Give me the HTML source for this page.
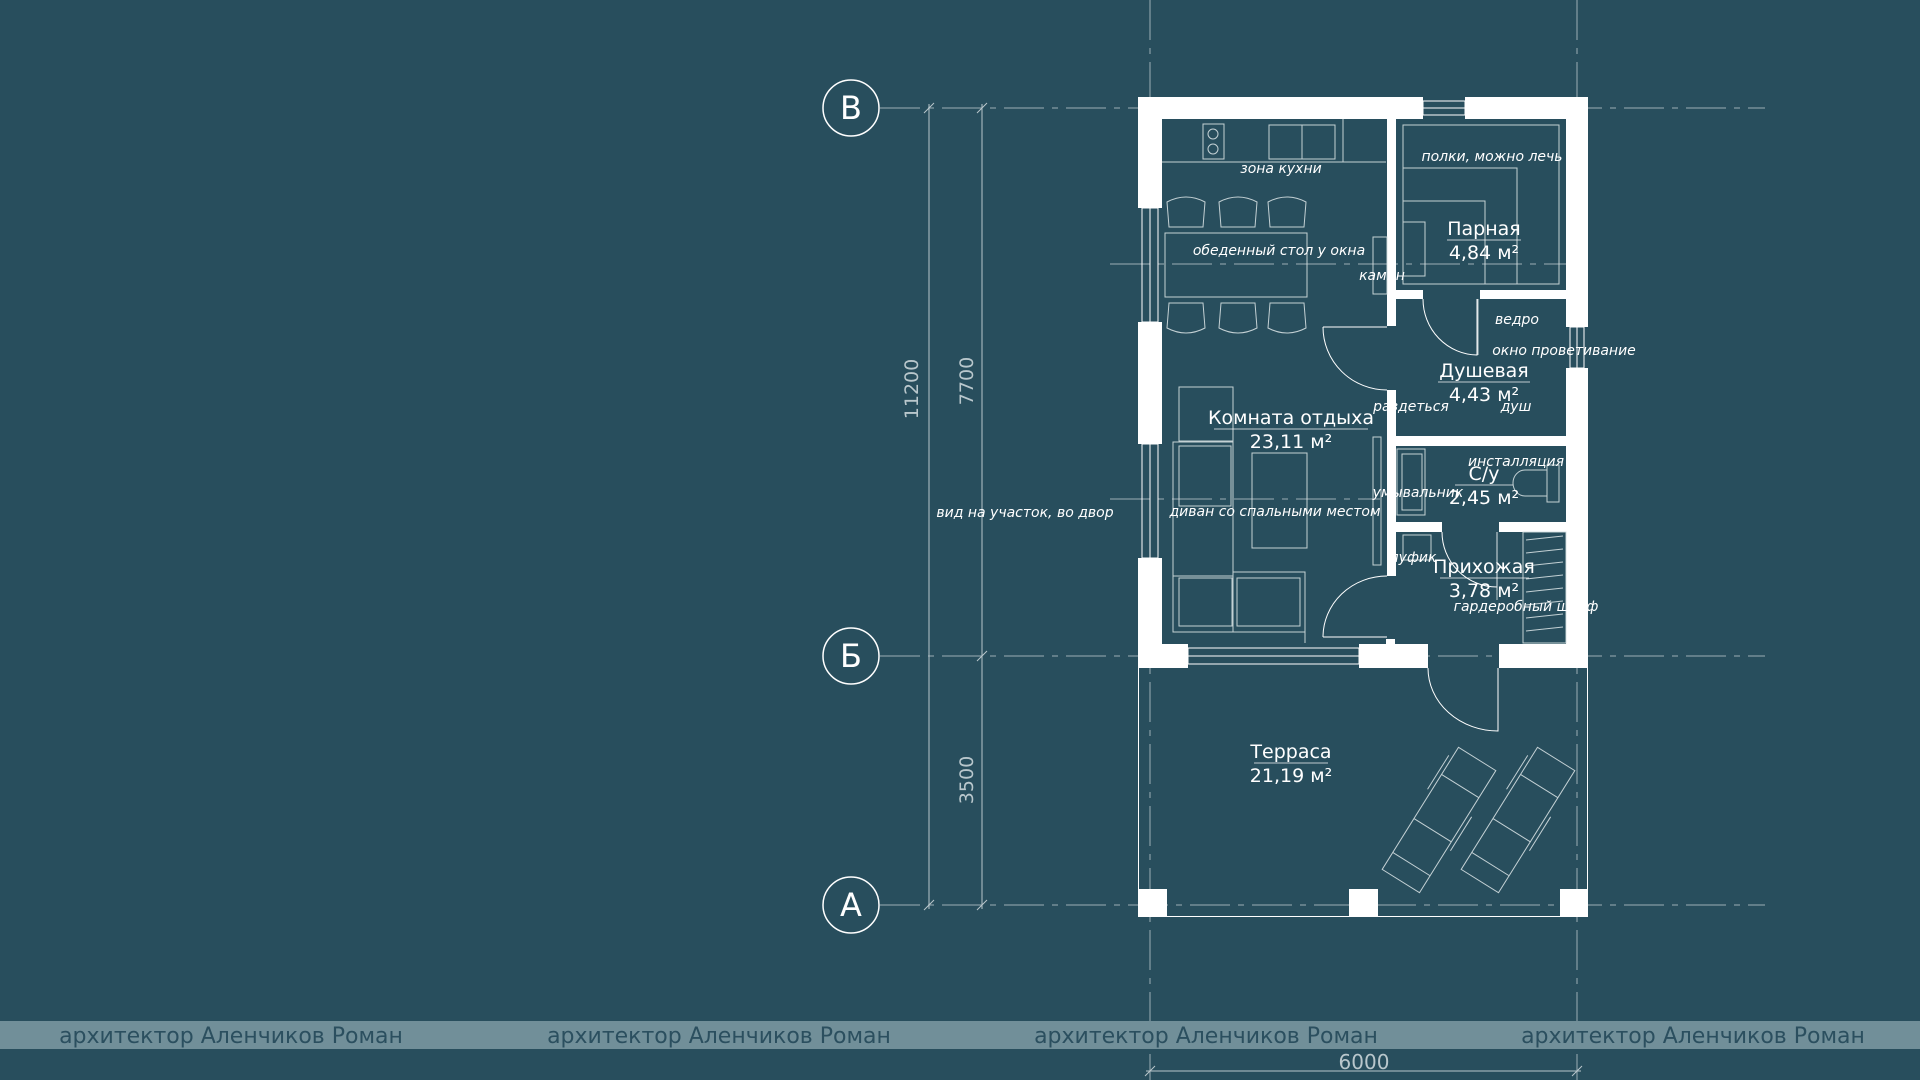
<!DOCTYPE html>
<html><head><meta charset="utf-8"><style>
html,body{margin:0;padding:0;background:#284e5d;}
svg{display:block}
text{font-family:"DejaVu Sans","Liberation Sans",sans-serif;fill:#fff}
.i{font-style:italic;font-size:14px}
.r{font-size:19px}
</style></head><body>
<svg width="1920" height="1080" viewBox="0 0 1920 1080" xmlns="http://www.w3.org/2000/svg">
<rect width="1920" height="1080" fill="#284e5d"/>
<g stroke="#b9c7cc" stroke-width="1" stroke-dasharray="40 8 6 8" fill="none" opacity="0.8">
<line x1="1150" y1="0" x2="1150" y2="1080"/>
<line x1="1577" y1="0" x2="1577" y2="1080"/>
<line x1="880" y1="108" x2="1765" y2="108"/>
<line x1="880" y1="656" x2="1765" y2="656"/>
<line x1="880" y1="905" x2="1765" y2="905"/>
<line x1="1110" y1="264" x2="1580" y2="264"/>
<line x1="1110" y1="499" x2="1380" y2="499"/>
</g>
<g stroke="#b9c7cc" stroke-width="1" fill="none">
<line x1="929" y1="104" x2="929" y2="909"/>
<line x1="982" y1="104" x2="982" y2="909"/>
<line x1="924" y1="113" x2="934" y2="103"/><line x1="924" y1="910" x2="934" y2="900"/>
<line x1="977" y1="113" x2="987" y2="103"/><line x1="977" y1="661" x2="987" y2="651"/><line x1="977" y1="910" x2="987" y2="900"/>
<line x1="1146" y1="1071" x2="1581" y2="1071"/>
<line x1="1145" y1="1076" x2="1155" y2="1066"/><line x1="1572" y1="1076" x2="1582" y2="1066"/>
</g>
<text x="918" y="389" font-size="19" style="fill:#b9c7cc" text-anchor="middle" transform="rotate(-90 918 389)">11200</text>
<text x="973" y="381" font-size="19" style="fill:#b9c7cc" text-anchor="middle" transform="rotate(-90 973 381)">7700</text>
<text x="973" y="780" font-size="19" style="fill:#b9c7cc" text-anchor="middle" transform="rotate(-90 973 780)">3500</text>
<g stroke="#fff" stroke-width="1.5" fill="#284e5d">
<circle cx="851" cy="108" r="28"/><circle cx="851" cy="656" r="28"/><circle cx="851" cy="905" r="28"/>
</g>
<text x="851" y="119" font-size="32" text-anchor="middle">В</text>
<text x="851" y="667" font-size="32" text-anchor="middle">Б</text>
<text x="851" y="916" font-size="32" text-anchor="middle">А</text>
<g fill="#fff">
<rect x="1138" y="97" width="285" height="22"/>
<rect x="1465" y="97" width="123" height="22"/>
<rect x="1138" y="97" width="24" height="111"/>
<rect x="1138" y="322" width="24" height="122"/>
<rect x="1138" y="558" width="24" height="110"/>
<rect x="1566" y="97" width="22" height="230"/>
<rect x="1566" y="368" width="22" height="300"/>
<rect x="1138" y="644" width="50" height="24"/>
<rect x="1359" y="644" width="69" height="24"/>
<rect x="1499" y="644" width="89" height="24"/>
<rect x="1387" y="119" width="9" height="207"/>
<rect x="1387" y="390" width="9" height="186"/>
<rect x="1396" y="290" width="27" height="9"/>
<rect x="1480" y="290" width="86" height="9"/>
<rect x="1396" y="436" width="170" height="10"/>
<rect x="1396" y="522" width="46" height="10"/>
<rect x="1499" y="522" width="67" height="10"/>
<rect x="1386" y="639" width="9" height="5"/>
<rect x="1138" y="889" width="29" height="27"/>
<rect x="1349" y="889" width="29" height="27"/>
<rect x="1560" y="889" width="28" height="27"/>
</g>
<g stroke="#fff" stroke-width="1" fill="none">
<path d="M1138.5 668 V916.5 H1587.5 V668"/>
<rect x="1142" y="208" width="16" height="114"/><line x1="1150" y1="208" x2="1150" y2="322"/>
<rect x="1142" y="444" width="16" height="114"/><line x1="1150" y1="444" x2="1150" y2="558"/>
<rect x="1570" y="327" width="14" height="41"/><line x1="1577" y1="327" x2="1577" y2="368"/>
<rect x="1423" y="101" width="42" height="14"/><line x1="1423" y1="108" x2="1465" y2="108"/>
<rect x="1188" y="648" width="171" height="16"/><line x1="1188" y1="656" x2="1359" y2="656"/>
<path d="M1323 327 H1387 M1323 327 A64 63 0 0 0 1387 390"/>
<path d="M1423 299 A55 56 0 0 0 1477 355 V299"/>
<path d="M1323 637 H1387 M1323 637 A64 61 0 0 1 1387 576"/>
<path d="M1442 532 A55 55 0 0 0 1497 587 V532"/>
<path d="M1428 668 A70 63 0 0 0 1498 731 V668"/>
</g>
<g stroke="#d6e0e3" stroke-width="1" fill="none" opacity="0.9">
<line x1="1162" y1="162" x2="1386" y2="162"/>
<rect x="1203" y="124" width="21" height="35"/>
<circle cx="1213" cy="134" r="5"/><circle cx="1213" cy="149" r="5"/>
<rect x="1269" y="125" width="66" height="34"/><line x1="1302" y1="125" x2="1302" y2="159"/>
<line x1="1343" y1="119" x2="1343" y2="162"/>
<path d="M1169 227 L1167 202 Q1186 192 1205 202 L1203 227 Z"/>
<path d="M1221 227 L1219 202 Q1238 192 1257 202 L1255 227 Z"/>
<path d="M1270 227 L1268 202 Q1287 192 1306 202 L1304 227 Z"/>
<path d="M1169 303 L1167 328 Q1186 338 1205 328 L1203 303 Z"/>
<path d="M1221 303 L1219 328 Q1238 338 1257 328 L1255 303 Z"/>
<path d="M1270 303 L1268 328 Q1287 338 1306 328 L1304 303 Z"/>
<rect x="1165" y="233" width="142" height="64"/>
<rect x="1373" y="237" width="14" height="57"/>
<rect x="1403" y="125" width="156" height="159"/>
<path d="M1403 168 H1517 V284 M1403 201 H1485 V284"/>
<rect x="1403" y="222" width="22" height="54"/>
<line x1="1478" y1="299" x2="1478" y2="355"/>
<rect x="1179" y="387" width="54" height="54"/>
<rect x="1173" y="442" width="60" height="134"/>
<rect x="1179" y="446" width="52" height="60"/>
<rect x="1173" y="576" width="60" height="56"/>
<rect x="1233" y="572" width="72" height="60"/>
<rect x="1179" y="578" width="53" height="48"/>
<rect x="1237" y="578" width="63" height="48"/>
<rect x="1252" y="453" width="55" height="95"/>
<rect x="1373" y="437" width="8" height="128"/>
<line x1="1305" y1="632" x2="1305" y2="643"/>
<rect x="1397" y="449" width="28" height="66"/>
<rect x="1402" y="454" width="20" height="56"/>
<path d="M1547 470 H1525 A12 13 0 0 0 1525 496 H1547 Z"/>
<rect x="1547" y="465" width="12" height="37"/>
<rect x="1403" y="535" width="28" height="25"/>
<rect x="1523" y="532" width="43" height="111"/>
<line x1="1497" y1="532" x2="1497" y2="600"/>
<path d="M1526 540 L1563 536 M1526 553 L1563 549 M1526 566 L1563 562 M1526 579 L1563 575 M1526 592 L1563 588 M1526 605 L1563 601 M1526 618 L1563 614 M1526 631 L1563 627"/>
<g transform="translate(1439,820) rotate(32)">
<rect x="-22" y="-72" width="44" height="144"/><line x1="-22" y1="-40" x2="22" y2="-40"/><line x1="-22" y1="12" x2="22" y2="12"/><line x1="-22" y1="52" x2="22" y2="52"/>
<line x1="-26" y1="-60" x2="-26" y2="-20"/><line x1="26" y1="-20" x2="26" y2="20"/>
</g>
<g transform="translate(1518,820) rotate(32)">
<rect x="-22" y="-72" width="44" height="144"/><line x1="-22" y1="-40" x2="22" y2="-40"/><line x1="-22" y1="12" x2="22" y2="12"/><line x1="-22" y1="52" x2="22" y2="52"/>
<line x1="-26" y1="-60" x2="-26" y2="-20"/><line x1="26" y1="-20" x2="26" y2="20"/>
</g>
</g>
<g text-anchor="middle">
<text class="i" x="1281" y="173">зона кухни</text>
<text class="i" x="1492" y="161">полки, можно лечь</text>
<text class="r" x="1484" y="235">Парная</text>
<text class="r" x="1484" y="259">4,84 м²</text>
<text class="i" x="1279" y="255">обеденный стол у окна</text>
<text class="i" x="1382" y="280">камин</text>
<text class="i" x="1517" y="324">ведро</text>
<text class="i" x="1564" y="355">окно проветивание</text>
<text class="r" x="1484" y="377">Душевая</text>
<text class="r" x="1484" y="401">4,43 м²</text>
<text class="i" x="1411" y="411">раздеться</text>
<text class="i" x="1516" y="411">душ</text>
<text class="r" x="1291" y="424">Комната отдыха</text>
<text class="r" x="1291" y="448">23,11 м²</text>
<text class="i" x="1516" y="466">инсталляция</text>
<text class="r" x="1484" y="480">С/у</text>
<text class="r" x="1484" y="504">2,45 м²</text>
<text class="i" x="1418" y="497">умывальник</text>
<text class="i" x="1275" y="516">диван со спальными местом</text>
<text class="i" x="1413" y="562">пуфик</text>
<text class="r" x="1484" y="573">Прихожая</text>
<text class="r" x="1484" y="597">3,78 м²</text>
<text class="i" x="1526" y="611">гардеробный шкаф</text>
<text class="r" x="1291" y="758">Терраса</text>
<text class="r" x="1291" y="782">21,19 м²</text>
<text class="i" x="1025" y="517">вид на участок, во двор</text>
</g>
<g stroke="#fff" stroke-width="1" opacity="0.7">
<line x1="1214" y1="429" x2="1368" y2="429"/>
<line x1="1447" y1="240" x2="1521" y2="240"/>
<line x1="1438" y1="382" x2="1530" y2="382"/>
<line x1="1455" y1="485" x2="1513" y2="485"/>
<line x1="1440" y1="578" x2="1529" y2="578"/>
<line x1="1254" y1="763" x2="1328" y2="763"/>
</g>
<rect x="0" y="1021" width="1920" height="28" fill="#718f99"/>
<g font-size="22" text-anchor="middle">
<text x="231" y="1043" style="fill:#2b4f5f">архитектор Аленчиков Роман</text>
<text x="719" y="1043" style="fill:#2b4f5f">архитектор Аленчиков Роман</text>
<text x="1206" y="1043" style="fill:#2b4f5f">архитектор Аленчиков Роман</text>
<text x="1693" y="1043" style="fill:#2b4f5f">архитектор Аленчиков Роман</text>
</g>
<text x="1364" y="1069" font-size="20" text-anchor="middle" style="fill:#b9c7cc">6000</text>
</svg>
</body></html>
